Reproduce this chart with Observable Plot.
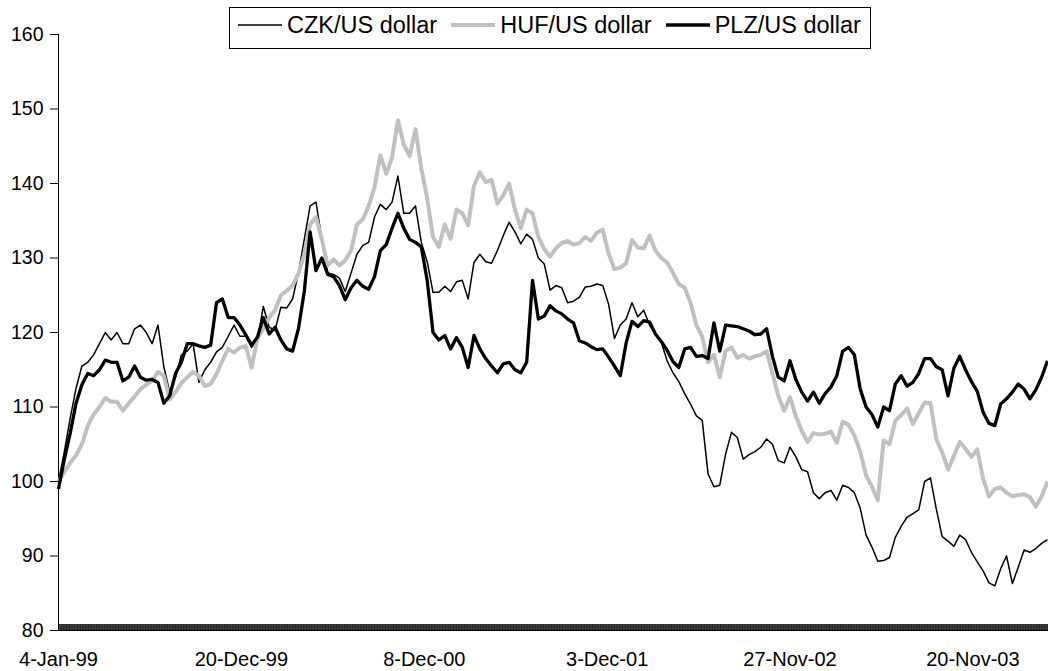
<!DOCTYPE html>
<html>
<head>
<meta charset="utf-8">
<script src="https://cdn.jsdelivr.net/npm/d3@7"></script>
<script src="https://cdn.jsdelivr.net/npm/@observablehq/plot@0.6"></script>
<style>
  html, body { margin: 0; padding: 0; background: #fff; }
  body { font-family: "Liberation Sans", Arial, sans-serif; }
  #wrap { position: relative; width: 1048px; height: 671px; }
  #legend {
    position: absolute; left: 229px; top: 7px; width: 642px; height: 42px;
    box-sizing: border-box; border: 1px solid #000; background: #fff;
    display: flex; align-items: center; padding-left: 8px; padding-bottom: 6px;
    font-size: 23.5px; color: #000; white-space: nowrap;
  }
  .item { display: flex; align-items: center; margin-right: 14px; }
  .item svg { margin-right: 5px; display: block; }
</style>
</head>
<body>
<div id="wrap"><div id="legend"></div></div>
<script>
// ---- data ----------------------------------------------------------
const N_DAYS = 1353;        // trading days on the category axis
const STEP = 8;             // samples below are every 8th trading day
const tickIdx = [0, 250, 500, 750, 1000, 1250];
const tickLabels = ["4-Jan-99", "20-Dec-99", "8-Dec-00", "3-Dec-01", "27-Nov-02", "20-Nov-03"];
const yTicks = [80, 90, 100, 110, 120, 130, 140, 150, 160];
const seriesNames = ["CZK/US dollar", "HUF/US dollar", "PLZ/US dollar"];
const seriesColors = ["#000000", "#c0c0c0", "#000000"];
const seriesWidths = [1.5, 4, 3.3];

const czk = [
  100,104,108.5,112.5,115.5,116,117,118.5,120,119,
  120,118.5,118.5,120.5,121,120,118.5,121,115.4,112,
  114,117,117.5,118.5,113.3,115,116,117.4,118,119.5,
  121,119.5,119.5,118,119,123.5,120.7,120.3,123.4,123.3,
  124.5,128,132.5,137,137.5,132.5,128,127.8,127.3,125.5,
  128,130.5,131.7,132.1,135.5,137.2,136.5,137.5,141,136,
  136,137,132.1,129.5,125.4,125.4,126.2,125.5,126.8,127,
  124.5,129.4,130.5,129.5,129.3,131,133,134.8,133.5,131.9,
  133.2,132.5,130,129.2,125.7,126.3,126,124,124.2,124.7,
  126.1,126.2,126.5,126.3,123.8,119.2,121,121.8,124,122.1,
  123,121,119.8,118.7,116.2,114.6,113.4,111.8,110.4,108.8,
  108.2,101,99.3,99.5,103.7,106.6,105.9,103,103.6,104,
  104.6,105.7,105,102.8,102.5,104.6,103.3,101.6,101.3,98.5,
  97.7,98.5,98.8,97.5,99.5,99.2,98.5,96.4,92.8,91.2,
  89.3,89.4,89.8,92.5,94,95.2,95.7,96.2,100,100.5,
  96.3,92.6,92,91.3,92.8,92.2,90.5,89.2,88,86.4,
  86,88.3,90,86.3,88.5,90.8,90.5,91,91.7,92.2
];
const huf = [
  100,101.3,102.5,103.5,105,107.5,109,110,111.2,110.7,
  110.7,109.5,110.5,111.4,112.4,113,113.5,114.7,114.2,111,
  112,113.2,114,114.7,114.2,112.8,113.1,114.4,116.2,117.8,
  117.3,118,118.2,115.3,119.2,120.5,122,123,125,125.6,
  126.3,127.9,130.5,134.5,135.5,132.5,129,129.8,129,129.7,
  131,134.5,135.2,137,139.5,143.8,141.3,143.5,148.5,145.2,
  143.7,147.3,142,138,132.8,131.5,134.5,132.6,136.5,136,
  134.4,139.7,141.5,140.2,140.5,137.3,138.4,140,136.5,134,
  136.5,136,132.8,131.2,130.2,131.3,132,132.3,131.8,132,
  132.8,132.3,133.4,133.8,130.6,128.5,128.7,129.3,132.4,131.4,
  131.3,133,131,130,129.4,128,126.5,126,124,121,
  119.4,116,117,114,117.5,118,116.6,117,116.5,116.8,
  117,117.5,114.5,111.5,109.5,111.3,108.8,106.8,105.3,106.5,
  106.3,106.4,106.7,105.2,108,107.6,106.2,104,100.8,99.3,
  97.5,105.5,105,108.2,108.9,109.8,107.7,109.2,110.6,110.5,
  105.7,103.9,101.6,103.4,105.3,104.4,103.3,104.3,100.4,98,
  99,99.2,98.5,98,98.2,98.3,97.9,96.6,98,100
];
const plz = [
  99,103,106.5,110.5,113,114.5,114.2,115,116.3,116,
  116,113.5,114,115.5,114,113.6,113.7,113.3,110.5,111.5,
  114.5,116,118.5,118.5,118.2,118,118.3,124,124.5,122,
  122,121,119.7,118.3,119.4,122,119.8,120.7,119,117.8,
  117.5,120.5,125.5,133.5,128.3,130,127.8,127.5,126.3,124.4,
  126,127,126.2,125.8,127.5,131,131.8,134,136,134,
  132.5,132.1,131.5,127,120,119,119.6,117.8,119.3,118,
  115.3,119.6,117.8,116.5,115.5,114.6,115.8,116,115,114.6,
  116,127,121.8,122.2,123.6,122.9,122.5,121.8,121.3,118.9,
  118.6,118.1,117.7,117.8,116.7,115.5,114.2,118.6,121.5,120.8,
  121.6,121.4,119.8,118.8,117.6,116.1,115.3,117.8,118,116.8,
  116.9,116.5,121.3,117.5,121,120.9,120.8,120.5,120.2,119.7,
  119.8,120.5,116.8,114,113.5,116.2,113.7,112,110.8,112,
  110.5,111.8,112.7,114.2,117.5,118,117,112.4,110,109,
  107.3,110,109.5,113.1,114.2,112.8,113.3,114.5,116.5,116.5,
  115.4,115,111.5,115.2,116.8,115,113.4,112.1,109.3,107.8,
  107.5,110.4,111.1,112,113.1,112.4,111.1,112.3,114,116.2
];
// --------------------------------------------------------------------

const seriesValues = [czk, huf, plz];
const rows = seriesNames.flatMap((name, j) =>
  seriesValues[j].map((v, k) => ({series: name, day: k * STEP, value: v})));
const allDays = d3.range(N_DAYS);
const font = '"Liberation Sans", Arial, sans-serif';

const chart = Plot.plot({
  width: 1048,
  height: 671,
  marginTop: 34,
  marginBottom: 41,
  marginLeft: 58,
  marginRight: 1,
  style: {fontFamily: font, color: "#000", background: "transparent", overflow: "visible"},
  x: {domain: [0, N_DAYS - 1]},
  y: {domain: [80, 160]},
  marks: [
    Plot.axisY({ticks: yTicks, tickSize: 8, tickPadding: 7, label: null, fontSize: 19.5}),
    Plot.axisX({ticks: allDays, tickSize: -6, tickFormat: () => "", label: null, strokeWidth: 0.8}),
    Plot.axisX({ticks: tickIdx, tickSize: 0, tickPadding: 21, label: null, fontSize: 20,
      tickFormat: d => tickLabels[tickIdx.indexOf(d)]}),
    Plot.frame({anchor: "left", stroke: "#000"}),
    Plot.frame({anchor: "bottom", stroke: "#000"}),
    ...seriesNames.map((name, j) => Plot.line(rows.filter(r => r.series === name), {
      x: "day", y: "value", stroke: seriesColors[j], strokeWidth: seriesWidths[j],
      strokeLinejoin: "round", strokeLinecap: "butt"
    }))
  ]
});
document.getElementById("wrap").insertBefore(chart, document.getElementById("legend"));

// legend
const legend = document.getElementById("legend");
seriesNames.forEach((name, j) => {
  const item = document.createElement("div");
  item.className = "item";
  const ns = "http://www.w3.org/2000/svg";
  const svg = document.createElementNS(ns, "svg");
  svg.setAttribute("width", 44);
  svg.setAttribute("height", 8);
  const ln = document.createElementNS(ns, "line");
  ln.setAttribute("x1", 0); ln.setAttribute("x2", 44);
  ln.setAttribute("y1", 4); ln.setAttribute("y2", 4);
  ln.setAttribute("stroke", seriesColors[j]);
  ln.setAttribute("stroke-width", seriesWidths[j]);
  svg.appendChild(ln);
  const txt = document.createElement("span");
  txt.textContent = name;
  item.appendChild(svg);
  item.appendChild(txt);
  legend.appendChild(item);
});
</script>
</body>
</html>
